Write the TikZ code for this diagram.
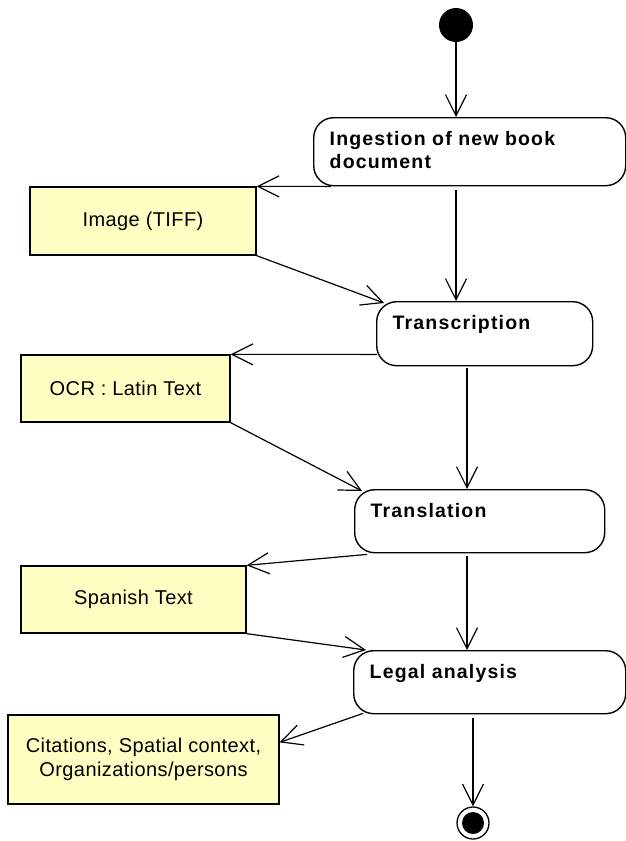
\documentclass[tikz,border=0pt]{standalone}
\usepackage{fontspec}
\setmainfont{Liberation Sans}
\newfontfamily\actfont{Liberation Sans}[LetterSpace=6]
\newfontfamily\objfont{Liberation Sans}[LetterSpace=2]
\usepackage{tikz}
\usetikzlibrary{arrows.meta,positioning,calc}
\definecolor{objfill}{HTML}{FFFFC4}

\begin{document}
\begin{tikzpicture}[x=1pt, y=1pt,
    act/.style={draw, line width=1.4pt, rounded corners=20pt, anchor=north west,
      inner xsep=16pt, inner ysep=0pt, align=left, text height=28pt, text depth=36pt,
      font=\actfont\bfseries\fontsize{19.5}{23}\selectfont},
    obj/.style={draw, line width=1.3pt, fill=objfill, inner sep=0pt, align=center,
      font=\objfont\fontsize{20}{24}\selectfont},
    flow/.style={-{Straight Barb[length=21pt, width=21pt]}, line width=1.2pt},
    initst/.style={circle, fill, minimum size=34pt, inner sep=0pt},
    finalst/.style={circle, draw, line width=1.3pt, minimum size=32pt, inner sep=0pt,
      path picture={\fill (path picture bounding box.center) circle (11pt);}}]
  \useasboundingbox (0,0) rectangle (626,-841);
  % Activities
  \node[initst] (start) at (456,-25) {};
  \node[act, text width=280pt, text depth=40pt] (ing) at (313,-117)
    {Ingestion of new book\\document};
  \node[act, text width=184pt] (tr) at (376,-301) {Transcription};
  \node[act, text width=218pt, text depth=35pt] (tl) at (354,-489) {Translation};
  \node[act, text width=240pt, text depth=35pt] (la) at (353,-650) {Legal analysis};
  \node[finalst] (end) at (473,-823) {};
  % Objects
  \node[obj, minimum width=226pt, minimum height=68pt] (img) at (143,-221) {Image (TIFF)};
  \node[obj, minimum width=209pt, minimum height=67pt] (ocr) at (125.5,-388.5) {OCR : Latin Text};
  \node[obj, minimum width=225pt, minimum height=67pt] (sp) at (133.5,-599.5) {Spanish Text};
  \node[obj, minimum width=271pt, minimum height=89pt] (cit) at (143.5,-759.5)
    {Citations, Spatial context,\\Organizations/persons};
  % Control flow
  \coordinate (mid) at (467,0);
  \draw[flow] (start) -- (start |- ing.north);
  \draw[flow, shorten <=4pt] (ing.south -| start) -- (tr.north -| start);
  \draw[flow, shorten <=2pt] (tr.south -| mid) -- (tl.north -| mid);
  \draw[flow, shorten <=3pt] (tl.south -| mid) -- (la.north -| mid);
  \draw[flow, shorten <=4pt] (la.south -| end) -- (end.north);
  % Object flow
  \draw[flow] ($(ing.south west)+(18,0)$) -- (img.north east);
  \draw[flow] (img.south east) -- ($(tr.north west)+(8,-2)$);
  \draw[flow] ($(tr.south west)+(1,12)$) -- (ocr.north east);
  \draw[flow] (ocr.south east) -- ($(tl.north west)+(8,-2)$);
  \draw[flow] ($(tl.south west)+(13,-1)$) -- (sp.north east);
  \draw[flow] (sp.south east) -- ($(la.north west)+(13,0)$);
  \draw[flow] ($(la.south west)+(10,1)$) -- ($(cit.north east)+(0,-28)$);
\end{tikzpicture}
\end{document}
